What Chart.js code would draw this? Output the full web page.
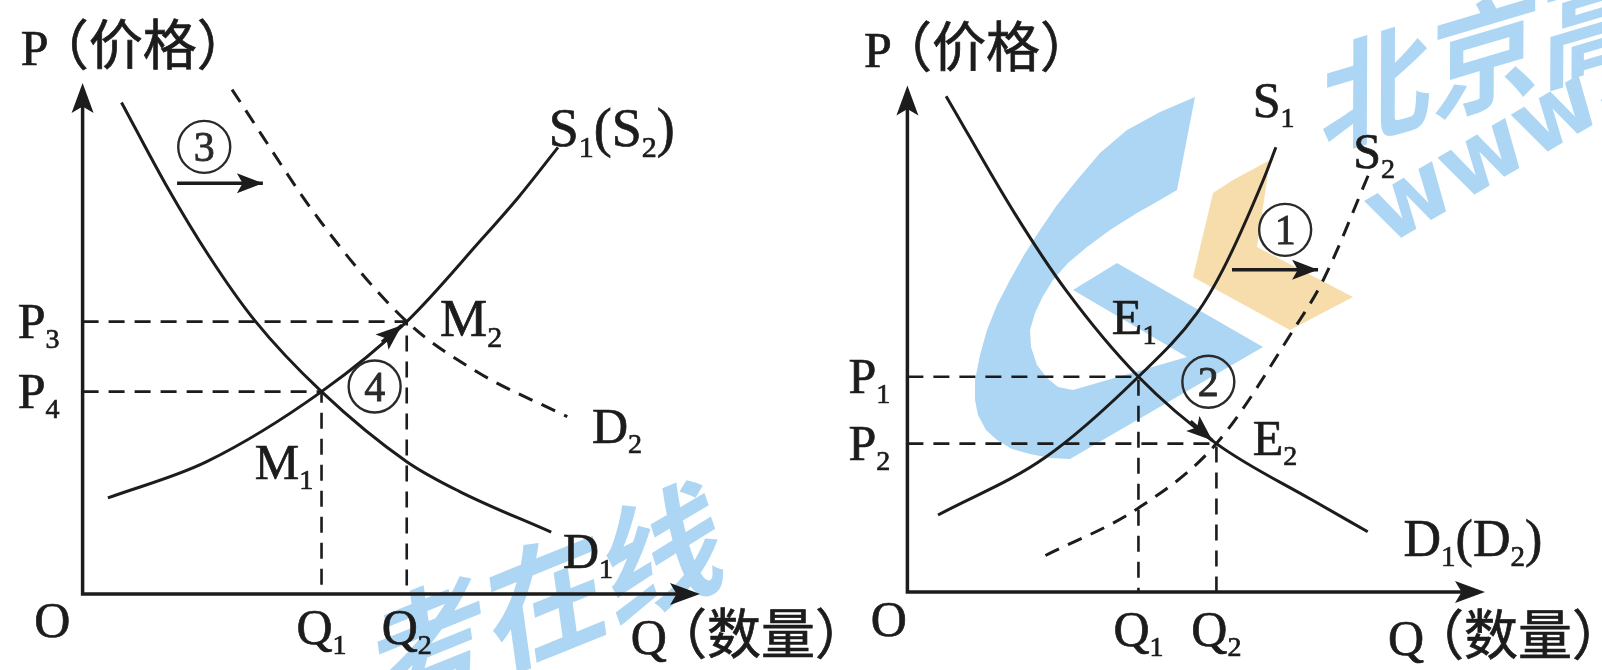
<!DOCTYPE html>
<html>
<head>
<meta charset="utf-8">
<script src="https://cdn.jsdelivr.net/npm/chart.js@4.4.1/dist/chart.umd.min.js"></script>
<style>
  html, body { margin: 0; padding: 0; background: #fff; }
  body { width: 1602px; height: 670px; position: relative; overflow: hidden; }
  .panel { position: absolute; top: 0; height: 670px; }
  #left { left: 0; width: 860px; }
  #right { left: 800px; width: 802px; }
</style>
</head>
<body>
<div class="panel" id="left"><canvas id="chart-left" width="860" height="670"></canvas></div>
<div class="panel" id="right"><canvas id="chart-right" width="802" height="670"></canvas></div>
<script>
// ── left diagram: demand rises D1 -> D2, supply unchanged ──
const leftDemand1 = [[0.63, 9.62], [1.34, 8.03], [2.05, 6.61], [2.79, 5.35], [3.87, 3.96], [5.25, 2.59], [6.10, 2.01], [7.59, 1.21]];
const leftDemand2 = [[2.42, 9.87], [3.86, 7.28], [5.25, 5.33], [6.40, 4.34], [7.85, 3.47]];
const leftSupply = [[0.41, 1.88], [2.01, 2.59], [3.87, 3.96], [5.25, 5.33], [6.47, 6.95], [7.07, 7.78], [7.70, 8.74]];
const leftQ = [3.87, 5.25];
const leftQLabels = ["Q_1", "Q_2"];
const leftP = [3.96, 5.33];
const leftPLabels = ["P_4", "P_3"];
const leftShiftArrow = [[1.53, 8.04], [2.92, 8.04]];
const leftMoveArrow = [[4.85, 4.93], [5.17, 5.26]];

// ── right diagram: supply rises S1 -> S2, demand unchanged ──
const rightDemand = [[0.67, 9.79], [1.86, 7.47], [2.75, 5.95], [4.00, 4.25], [5.35, 2.93], [7.00, 1.82], [7.97, 1.19]];
const rightSupply1 = [[0.53, 1.52], [2.39, 2.66], [4.00, 4.25], [5.01, 5.50], [5.46, 6.36], [6.16, 8.13], [6.38, 8.78]];
const rightSupply2 = [[2.39, 0.72], [3.99, 1.65], [5.35, 2.93], [6.68, 5.17], [7.20, 6.16], [8.01, 8.31]];
const rightQ = [4.00, 5.35];
const rightQLabels = ["Q_1", "Q_2"];
const rightP = [4.25, 2.93];
const rightPLabels = ["P_1", "P_2"];
const rightShiftArrow = [[5.62, 6.36], [7.11, 6.36]];
const rightMoveArrow = [[4.90, 3.37], [5.28, 2.99]];

const INK = "#1c1c1c";
const LATIN = '"Liberation Serif", serif';
const CJK = '"Noto Sans CJK SC", sans-serif';
const WM_BLUE = "#acd6f3";
const WM_ORANGE = "#f7ddab";

const pts = arr => arr.map(([x, y]) => ({ x, y }));

// "S_1(S_2)" -> ["S", "_1", "(S", "_2", ")"]
function parts(str) {
  const out = [];
  let buf = "";
  for (let i = 0; i < str.length; i++) {
    if (str[i] === "_") {
      if (buf) out.push(buf);
      buf = "";
      out.push("_" + str[i + 1]);
      i++;
    } else buf += str[i];
  }
  if (buf) out.push(buf);
  return out;
}

function curve(data, dashed) {
  return {
    data: pts(data), showLine: true, borderColor: INK, borderWidth: 3,
    borderDash: dashed ? [15, 10] : [], pointRadius: 0,
    cubicInterpolationMode: "monotone", clip: false
  };
}

function guides(qs, ps) {
  return qs.map((q, i) => ({
    data: [{ x: 0, y: ps[i] }, { x: q, y: ps[i] }, { x: q, y: 0 }],
    showLine: true, borderColor: INK, borderWidth: 2.6, borderDash: [16, 10],
    pointRadius: 0, tension: 0, clip: false
  }));
}

function arrow(data) {
  return {
    data: pts(data), showLine: true, borderColor: INK, borderWidth: 3.5,
    pointRadius: 0, tension: 0, clip: false, arrowHead: true
  };
}

function head(ctx, x0, y0, x1, y1, len, half) {
  const a = Math.atan2(y1 - y0, x1 - x0);
  const c = Math.cos(a), s = Math.sin(a);
  ctx.beginPath();
  ctx.moveTo(x1, y1);
  ctx.lineTo(x1 - len * c + half * s, y1 - len * s - half * c);
  ctx.lineTo(x1 - len * 0.78 * c, y1 - len * 0.78 * s);
  ctx.lineTo(x1 - len * c - half * s, y1 - len * s + half * c);
  ctx.closePath();
  ctx.fill();
}

const isCJK = t => /[\u3000-\u9fff\uff00-\uffef]/.test(t);

function drawLabel(ctx, px, py, lab) {
  const size = lab.size || 50;
  const fontOf = p => {
    if (p[0] === "_") return Math.round(size * 0.56) + "px " + LATIN;
    if (isCJK(p)) return Math.round(size * 1.08) + "px " + CJK;
    return size + "px " + LATIN;
  };
  const txt = p => (p[0] === "_" ? p.slice(1) : p);
  let w = 0;
  lab.text.forEach(p => {
    if (typeof p === "number") { w += p; return; }
    ctx.font = fontOf(p);
    w += ctx.measureText(txt(p)).width;
  });
  let x = lab.align === "center" ? px - w / 2 : px;
  const base = py + size * 0.33;
  ctx.textAlign = "left";
  ctx.textBaseline = "alphabetic";
  ctx.lineWidth = 0.7;
  lab.text.forEach(p => {
    if (typeof p === "number") { x += p; return; }
    const t = txt(p);
    const y = p[0] === "_" ? base + size * 0.2 : base;
    ctx.font = fontOf(p);
    ctx.fillText(t, x, y);
    ctx.strokeText(t, x, y);
    x += ctx.measureText(t).width;
  });
}

// faint publisher watermark that sits behind the diagrams (canvas pixels)
function polygon(ctx, list, color) {
  ctx.fillStyle = color;
  ctx.lineJoin = "round";
  ctx.beginPath();
  list.forEach(([x, y], i) => (i ? ctx.lineTo(x, y) : ctx.moveTo(x, y)));
  ctx.closePath();
  ctx.fill();
}

function slantText(ctx, text, x, y, deg, skew, font, baseline) {
  ctx.save();
  ctx.translate(x, y);
  ctx.rotate(deg * Math.PI / 180);
  ctx.transform(1, 0, skew, 1, 0, 0);
  ctx.font = font;
  ctx.fillStyle = WM_BLUE;
  ctx.textAlign = "left";
  ctx.textBaseline = baseline;
  ctx.fillText(text, 0, 0);
  ctx.restore();
}

const watermarks = {
  left(ctx) {
    slantText(ctx, "考在线", 373, 669, -22, -0.25, "bold 125px " + CJK, "middle");
  },
  right(ctx) {
    const o = -800;
    const g = [
      [1195, 97], [1160, 112], [1127, 130], [1100, 153], [1077, 180], [1057, 205], [1040, 230],
      [1024, 255], [1010, 280], [997, 305], [987, 330], [980, 355], [975, 380], [975, 400],
      [978, 415], [986, 430], [997, 440], [1012, 449], [1030, 454], [1050, 458], [1070, 459],
      [1263, 347], [1117, 263], [1073, 290], [1187, 357], [1073, 390], [1058, 387], [1047, 378],
      [1037, 365], [1031, 347], [1030, 330], [1035, 313], [1043, 296], [1053, 280], [1068, 263],
      [1087, 247], [1110, 230], [1137, 213], [1160, 200], [1177, 190]
    ];
    polygon(ctx, g.map(([x, y]) => [x + o, y]), WM_BLUE);
    const chevron = [[1213, 193], [1233, 180], [1270, 160], [1257, 247], [1353, 297], [1290, 330], [1193, 277]];
    polygon(ctx, chevron.map(([x, y]) => [x + o, y]), WM_ORANGE);
    slantText(ctx, "北京高考", 1321 + o, 103, -16.5, -0.3, "bold 115px " + CJK, "middle");
    slantText(ctx, "www.", 1387 + o, 246, -30.5, 0, 'bold 92px "DejaVu Sans", sans-serif', "alphabetic");
  }
};

const econPlugin = {
  id: "econ",
  beforeDatasetsDraw(chart, args, opts) {
    const wm = watermarks[opts.watermark];
    if (!wm) return;
    const ctx = chart.ctx;
    ctx.save();
    wm(ctx);
    ctx.restore();
  },
  afterDatasetsDraw(chart, args, opts) {
    const ctx = chart.ctx;
    const xs = chart.scales.x, ys = chart.scales.y;
    const px = v => xs.getPixelForValue(v), py = v => ys.getPixelForValue(v);
    ctx.save();
    ctx.strokeStyle = INK;
    ctx.fillStyle = INK;

    // axes with arrow tips
    const ox = px(0), oy = py(0), tx = px(xs.max), ty = py(ys.max);
    ctx.lineWidth = 3.5;
    ctx.lineCap = "butt";
    ctx.beginPath();
    ctx.moveTo(ox, ty + 20); ctx.lineTo(ox, oy); ctx.lineTo(tx - 20, oy);
    ctx.stroke();
    head(ctx, ox, oy, ox, ty, 30, 11);
    head(ctx, ox, oy, tx, oy, 30, 11);

    // arrow heads on the shift / movement arrows
    chart.data.datasets.forEach((ds, i) => {
      if (!ds.arrowHead) return;
      const el = chart.getDatasetMeta(i).data;
      const a = el[el.length - 2], b = el[el.length - 1];
      head(ctx, a.x, a.y, b.x, b.y, 26, 10);
    });

    // circled step numbers
    (opts.marks || []).forEach(m => {
      const cx = px(m.at[0]), cy = py(m.at[1]);
      ctx.lineWidth = 2.4;
      ctx.strokeStyle = "#2a2a2a";
      ctx.beginPath();
      ctx.arc(cx, cy, 26, 0, Math.PI * 2);
      ctx.stroke();
      ctx.fillStyle = "#2a2a2a";
      ctx.font = "42px " + LATIN;
      ctx.textAlign = "center";
      ctx.textBaseline = "alphabetic";
      ctx.lineWidth = 0.8;
      ctx.fillText(m.n, cx, cy + 14);
      ctx.strokeText(m.n, cx, cy + 14);
    });

    ctx.fillStyle = INK;
    ctx.strokeStyle = INK;
    (opts.labels || []).forEach(l => drawLabel(ctx, px(l.at[0]), py(l.at[1]), l));
    ctx.restore();
  }
};

function makeChart(id, datasets, padding, labels, marks, watermark) {
  return new Chart(document.getElementById(id), {
    type: "scatter",
    data: { datasets },
    options: {
      responsive: false, animation: false, events: [],
      layout: { padding },
      plugins: { legend: { display: false }, tooltip: { enabled: false }, econ: { labels, marks, watermark } },
      scales: {
        x: { type: "linear", min: 0, max: 10, display: false },
        y: { type: "linear", min: 0, max: 10, display: false }
      }
    },
    plugins: [econPlugin]
  });
}

const tickLabels = (vals, names, y, x) => names.map((n, i) => (
  y !== undefined
    ? { at: [vals[i], y], text: parts(n), align: "center" }
    : { at: [x, vals[i]], text: parts(n) }
));

makeChart("chart-left", [
  ...guides(leftQ, leftP),
  curve(leftDemand1), curve(leftSupply), curve(leftDemand2, true),
  arrow(leftShiftArrow), arrow(leftMoveArrow)
], { left: 82.6, right: 160, top: 83, bottom: 76 }, [
  { at: [-1.0, 10.68], text: ["P", -14, "（价格）"] },
  { at: [8.88, -0.86], text: ["Q", -14, "（数量）"] },
  { at: [-0.49, -0.51], text: ["O"], align: "center" },
  ...tickLabels(leftQ, leftQLabels, -0.66),
  ...tickLabels(leftP, leftPLabels, undefined, -1.05),
  { at: [7.55, 9.12], text: parts("S_1(S_2)"), size: 54 },
  { at: [8.25, 3.27], text: parts("D_2") },
  { at: [7.78, 0.84], text: parts("D_1") },
  { at: [5.79, 5.39], text: parts("M_2"), size: 53 },
  { at: [2.79, 2.57], text: parts("M_1") }
], [
  { n: "3", at: [1.97, 8.75] },
  { n: "4", at: [4.73, 4.06] }
], "left");

makeChart("chart-right", [
  ...guides(rightQ, rightP),
  curve(rightDemand), curve(rightSupply1), curve(rightSupply2, true),
  arrow(rightShiftArrow), arrow(rightMoveArrow)
], { left: 107.4, right: 117, top: 85.5, bottom: 78 }, [
  { at: [-0.75, 10.70], text: ["P", -14, "（价格）"] },
  { at: [8.32, -0.91], text: ["Q", -14, "（数量）"] },
  { at: [-0.32, -0.55], text: ["O"], align: "center" },
  ...tickLabels(rightQ, rightQLabels, -0.75),
  ...tickLabels(rightP, rightPLabels, undefined, -1.02),
  { at: [5.98, 9.71], text: parts("S_1"), size: 50 },
  { at: [7.72, 8.69], text: parts("S_2"), size: 50 },
  { at: [3.54, 5.42], text: parts("E_1") },
  { at: [5.98, 3.03], text: parts("E_2") },
  { at: [8.59, 1.05], text: parts("D_1(D_2)"), size: 52 }
], [
  { n: "1", at: [6.54, 7.15] },
  { n: "2", at: [5.21, 4.15] }
], "right");
</script>
</body>
</html>
